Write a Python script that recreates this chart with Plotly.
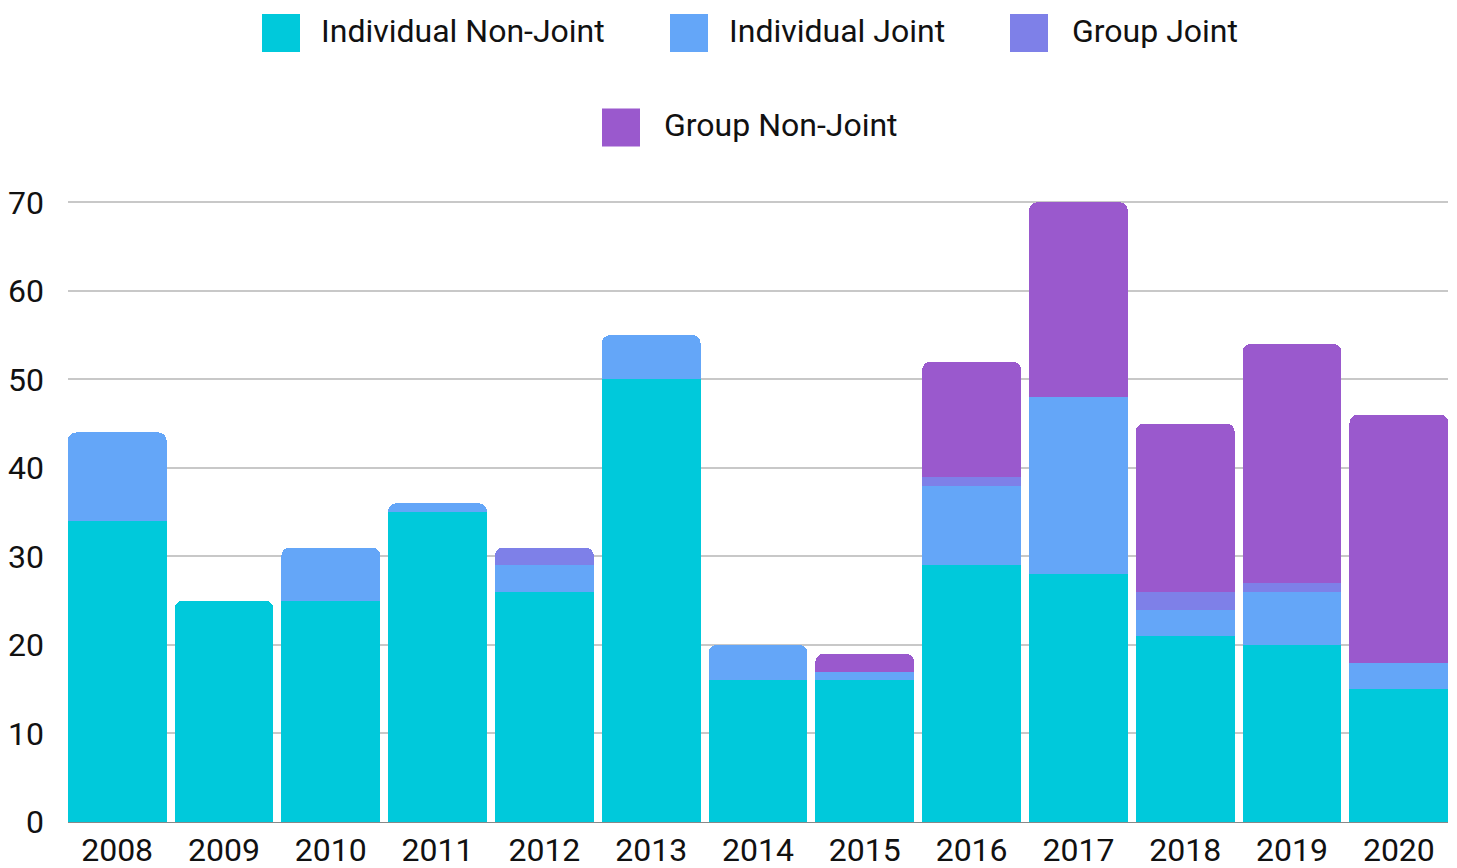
import plotly.graph_objects as go

years = ["2008", "2009", "2010", "2011", "2012", "2013", "2014",
         "2015", "2016", "2017", "2018", "2019", "2020"]

individual_non_joint = [34, 25, 25, 35, 26, 50, 16, 16, 29, 28, 21, 20, 15]
individual_joint = [10, 0, 6, 1, 3, 5, 4, 1, 9, 20, 3, 6, 3]
group_joint = [0, 0, 0, 0, 2, 0, 0, 0, 1, 0, 2, 1, 0]
group_non_joint = [0, 0, 0, 0, 0, 0, 0, 2, 13, 22, 19, 27, 28]

series_names = ["Individual Non-Joint", "Individual Joint", "Group Joint", "Group Non-Joint"]
series_values = [individual_non_joint, individual_joint, group_joint, group_non_joint]
series_colors = ["#00C9DB", "#64A6F8", "#7E80E8", "#9A59CD"]

y_ticks = [0, 10, 20, 30, 40, 50, 60, 70]

W, H = 1457, 868
M_L, M_R, M_T, M_B = 68, 9, 201, 46
PW, PH = W - M_L - M_R, H - M_T - M_B

FONT = "Roboto, Arial, sans-serif"

fig = go.Figure()
for name, vals, color in zip(series_names, series_values, series_colors):
    fig.add_trace(go.Bar(
        x=years, y=vals, name=name,
        marker=dict(color=color, line=dict(width=0)),
        showlegend=False,
    ))


def px_x(px):
    return (px - M_L) / PW


def px_y(py):
    return (H - M_B - py) / PH


# Custom legend: large square swatches with labels, two centered rows
# (series index, swatch left, label left, row center) in pixels
legend_items = [
    (0, 262, 322, 33),
    (1, 670, 730, 33),
    (2, 1010, 1073, 33),
    (3, 602, 665, 127.5),
]
shapes = []
annotations = []
for idx, sw_left, txt_left, cy in legend_items:
    shapes.append(dict(
        type="rect", xref="paper", yref="paper",
        x0=px_x(sw_left), x1=px_x(sw_left + 38),
        y0=px_y(cy + 19), y1=px_y(cy - 19),
        fillcolor=series_colors[idx], line=dict(width=0), layer="above",
    ))
    annotations.append(dict(
        xref="paper", yref="paper",
        x=px_x(txt_left - 3), y=px_y(cy - 2),
        xanchor="left", yanchor="middle",
        text=series_names[idx], showarrow=False,
        font=dict(family=FONT, size=32, color="#111111"),
    ))

fig.update_layout(
    width=W, height=H,
    margin=dict(l=M_L, r=M_R, t=M_T, b=M_B, pad=0),
    barmode="stack",
    bargap=0.075,
    barcornerradius=8,
    plot_bgcolor="white",
    paper_bgcolor="white",
    font=dict(family=FONT, size=32, color="#111111"),
    shapes=shapes,
    annotations=annotations,
    xaxis=dict(
        type="category",
        range=[-0.46, 12.46],
        showgrid=False,
        showline=True, linecolor="#888888", linewidth=1,
        ticks="", tickfont=dict(size=32, color="#111111"),
        ticklabelstandoff=0,
        automargin=False,
        fixedrange=True,
    ),
    yaxis=dict(
        range=[0, 70.15],
        tickvals=y_ticks,
        showgrid=True, gridcolor="#C8C8C8", gridwidth=2,
        zeroline=False,
        ticks="", tickfont=dict(size=32, color="#111111"),
        ticklabelstandoff=23,
        automargin=False,
        fixedrange=True,
    ),
)

fig.write_html("out.html")
